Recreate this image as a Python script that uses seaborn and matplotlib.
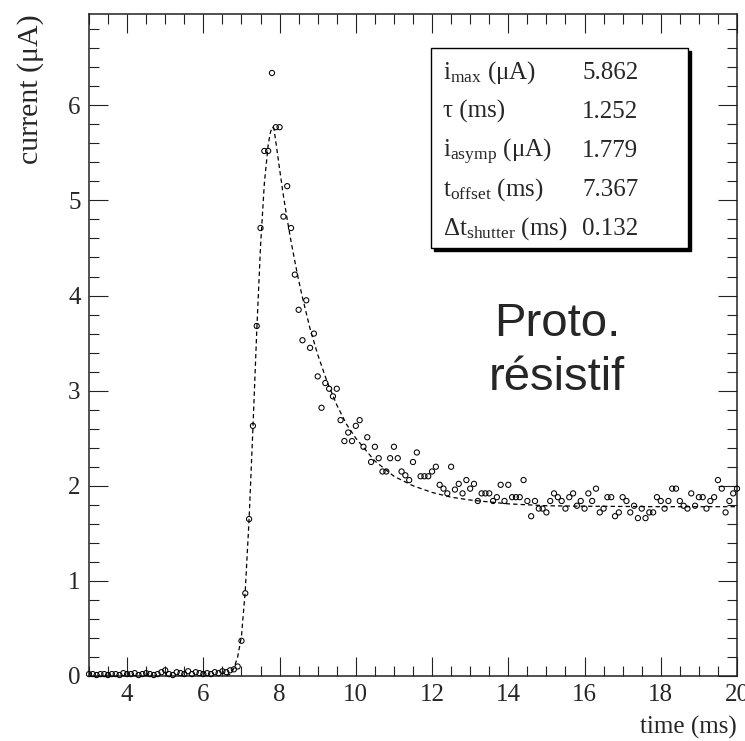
import numpy as np
import pandas as pd
import seaborn as sns
import matplotlib
matplotlib.use('Agg')
from matplotlib import pyplot as plt
from matplotlib.patches import Rectangle
from matplotlib.ticker import MultipleLocator

# measured points: time (ms) and current (uA), one row per ms
time_ms = [
    3.0, 3.1, 3.2, 3.3, 3.4, 3.5, 3.6, 3.7, 3.8, 3.9,
    4.0, 4.1, 4.2, 4.3, 4.4, 4.5, 4.6, 4.7, 4.8, 4.9,
    5.0, 5.1, 5.2, 5.3, 5.4, 5.5, 5.6, 5.7, 5.8, 5.9,
    6.0, 6.1, 6.2, 6.3, 6.4, 6.5, 6.6, 6.7, 6.8, 6.9,
    7.0, 7.1, 7.2, 7.3, 7.4, 7.5, 7.6, 7.7, 7.8, 7.9,
    8.0, 8.1, 8.2, 8.3, 8.4, 8.5, 8.6, 8.7, 8.8, 8.9,
    9.0, 9.1, 9.2, 9.3, 9.4, 9.5, 9.6, 9.7, 9.8, 9.9,
    10.0, 10.1, 10.2, 10.3, 10.4, 10.5, 10.6, 10.7, 10.8, 10.9,
    11.0, 11.1, 11.2, 11.3, 11.4, 11.5, 11.6, 11.7, 11.8, 11.9,
    12.0, 12.1, 12.2, 12.3, 12.4, 12.5, 12.6, 12.7, 12.8, 12.9,
    13.0, 13.1, 13.2, 13.3, 13.4, 13.5, 13.6, 13.7, 13.8, 13.9,
    14.0, 14.1, 14.2, 14.3, 14.4, 14.5, 14.6, 14.7, 14.8, 14.9,
    15.0, 15.1, 15.2, 15.3, 15.4, 15.5, 15.6, 15.7, 15.8, 15.9,
    16.0, 16.1, 16.2, 16.3, 16.4, 16.5, 16.6, 16.7, 16.8, 16.9,
    17.0, 17.1, 17.2, 17.3, 17.4, 17.5, 17.6, 17.7, 17.8, 17.9,
    18.0, 18.1, 18.2, 18.3, 18.4, 18.5, 18.6, 18.7, 18.8, 18.9,
    19.0, 19.1, 19.2, 19.3, 19.4, 19.5, 19.6, 19.7, 19.8, 19.9,
    20.0,
]
current_ua = [
    0.02, 0.02, 0.01, 0.02, 0.02, 0.01, 0.02, 0.02, 0.01, 0.03,
    0.02, 0.02, 0.03, 0.01, 0.02, 0.03, 0.02, 0.01, 0.02, 0.04,
    0.06, 0.02, 0.01, 0.04, 0.03, 0.02, 0.05, 0.02, 0.04, 0.03,
    0.02, 0.03, 0.02, 0.04, 0.03, 0.05, 0.04, 0.06, 0.07, 0.10,
    0.37, 0.87, 1.65, 2.63, 3.68, 4.71, 5.52, 5.52, 6.34, 5.77,
    5.77, 4.83, 5.15, 4.71, 4.22, 3.85, 3.53, 3.95, 3.45, 3.60,
    3.15, 2.82, 3.08, 3.02, 2.94, 3.02, 2.69, 2.47, 2.56, 2.47,
    2.63, 2.69, 2.41, 2.51, 2.25, 2.41, 2.29, 2.15, 2.15, 2.29,
    2.41, 2.29, 2.15, 2.11, 2.06, 2.25, 2.35, 2.10, 2.10, 2.10,
    2.15, 2.20, 2.01, 1.97, 1.92, 2.20, 1.96, 2.02, 1.92, 2.06,
    1.97, 2.02, 1.84, 1.92, 1.92, 1.92, 1.84, 1.88, 2.01, 1.84,
    2.01, 1.88, 1.88, 1.88, 2.06, 1.84, 1.68, 1.84, 1.76, 1.76,
    1.72, 1.84, 1.92, 1.88, 1.84, 1.76, 1.88, 1.92, 1.79, 1.84,
    1.76, 1.92, 1.84, 1.97, 1.72, 1.76, 1.88, 1.88, 1.68, 1.72,
    1.88, 1.84, 1.72, 1.79, 1.66, 1.76, 1.66, 1.72, 1.72, 1.88,
    1.84, 1.76, 1.84, 1.97, 1.97, 1.84, 1.79, 1.76, 1.92, 1.79,
    1.88, 1.88, 1.76, 1.84, 1.88, 2.06, 1.97, 1.72, 1.84, 1.92,
    1.97,
]

# fitted curve
fit_t = [6.6, 6.7, 6.8, 6.9, 7.0, 7.1, 7.2, 7.3, 7.4, 7.5, 7.6, 7.7, 7.75,
         7.8, 7.85, 7.9, 8.0, 8.1, 8.2, 8.3, 8.4, 8.5, 8.6, 8.8, 9.0, 9.25,
         9.5, 9.75, 10.0, 10.5, 11.0, 11.5, 12.0, 12.5, 13.0, 14.0, 15.0,
         16.0, 18.0, 20.0]
fit_i = [0.0, 0.02, 0.08, 0.20, 0.42, 0.90, 1.65, 2.60, 3.62, 4.52, 5.18,
         5.58, 5.70, 5.77, 5.76, 5.62, 5.33, 5.05, 4.80, 4.57, 4.36, 4.16,
         3.98, 3.65, 3.38, 3.09, 2.85, 2.65, 2.50, 2.26, 2.10, 2.00, 1.93,
         1.88, 1.85, 1.81, 1.79, 1.785, 1.78, 1.78]

# fit parameters shown in the box
param_names = [r'i$_{\mathrm{max}}$ (μA)', 'τ (ms)', r'i$_{\mathrm{asymp}}$ (μA)',
               r't$_{\mathrm{offset}}$ (ms)', r'Δt$_{\mathrm{shutter}}$ (ms)']
param_values = ['5.862', '1.252', '1.779', '7.367', '0.132']

sns.set_style('ticks')
plt.rcParams['font.family'] = ['Liberation Serif', 'DejaVu Serif']
plt.rcParams['mathtext.fontset'] = 'custom'
plt.rcParams['mathtext.rm'] = 'Liberation Serif'
plt.rcParams['mathtext.it'] = 'Liberation Serif:italic'

df = pd.DataFrame({'time': time_ms, 'current': current_ua})
fit_df = pd.DataFrame({'time': fit_t, 'current': fit_i})

fig = plt.figure(figsize=(7.45, 7.41), dpi=100)
ax = fig.add_axes([89 / 745, 1 - 676 / 741, 648 / 745, 662 / 741])

sns.lineplot(data=fit_df, x='time', y='current', ax=ax, color='black',
             linewidth=0.9, sort=False, estimator=None)
ax.lines[0].set_dashes((3.5, 2.5))
sns.scatterplot(data=df, x='time', y='current', ax=ax, marker='o', s=14,
                facecolor='none', edgecolor='black', linewidth=0.75,
                clip_on=False, zorder=3)

ax.set_xlim(3, 20)
ax.set_ylim(0, 6.96)
ax.set_xlabel('')
ax.set_ylabel('')
ax.xaxis.set_major_locator(MultipleLocator(2))
ax.xaxis.set_minor_locator(MultipleLocator(0.5))
ax.yaxis.set_major_locator(MultipleLocator(1))
ax.yaxis.set_minor_locator(MultipleLocator(0.2))
ax.tick_params(which='both', direction='in', top=True, right=True,
               labelsize=18, pad=6, color='#222222')
ax.tick_params(which='major', length=14, width=0.8)
ax.tick_params(which='minor', length=7, width=0.8)
for sp in ax.spines.values():
    sp.set_linewidth(1.1)
    sp.set_color('#222222')

fig.text(31 / 745, 1 - 14 / 741, 'current (μA)', rotation=90, ha='center',
         va='top', fontsize=21.5)
fig.text(737 / 745, 1 - 734 / 741, 'time (ms)', ha='right', va='baseline',
         fontsize=18)

# parameter box with shadow
bx0, bx1 = 431 / 745, 688 / 745
by0, by1 = 1 - 248 / 741, 1 - 48 / 741
fig.patches.append(Rectangle((bx0 + 3 / 745, by0 - 3 / 741), bx1 - bx0, by1 - by0,
                             transform=fig.transFigure, facecolor='black',
                             edgecolor='black', zorder=4))
fig.patches.append(Rectangle((bx0, by0), bx1 - bx0, by1 - by0,
                             transform=fig.transFigure, facecolor='white',
                             edgecolor='black', linewidth=1.0, zorder=5))
baselines = [79, 118, 157, 196, 235]
for name, val, yb in zip(param_names, param_values, baselines):
    fig.text(443 / 745, 1 - yb / 741, name, ha='left', va='baseline',
             fontsize=18, zorder=6)
    fig.text(582 / 745, 1 - yb / 741, val, ha='left', va='baseline',
             fontsize=18, zorder=6)

fig.text(557 / 745, 1 - 336 / 741, 'Proto.', ha='center', va='baseline',
         fontsize=34, family='Liberation Sans')
fig.text(557 / 745, 1 - 390 / 741, 'résistif', ha='center', va='baseline',
         fontsize=34, family='Liberation Sans')

fig.savefig('out.png', dpi=100)
